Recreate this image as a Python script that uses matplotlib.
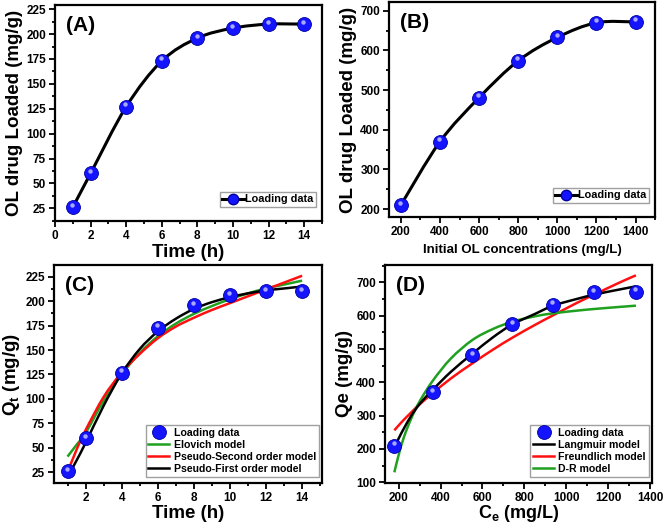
import matplotlib
matplotlib.use("Agg")
import matplotlib.pyplot as plt
import numpy as np
from matplotlib.path import Path
from matplotlib.patches import PathPatch
from matplotlib.ticker import MultipleLocator, AutoMinorLocator
from matplotlib.transforms import offset_copy

plt.rcParams['font.family'] = ['Liberation Sans', 'DejaVu Sans']
plt.rcParams['font.weight'] = 'bold'
plt.rcParams['mathtext.fontset'] = 'custom'
plt.rcParams['mathtext.rm'] = 'Liberation Sans:bold'
plt.rcParams['mathtext.bf'] = 'Liberation Sans:bold'

# (A) loading vs time
time_h = [1, 2, 4, 6, 8, 10, 12, 14]
loaded_t = [26, 60, 127, 173, 196, 206, 210, 210]

# (B) loading vs initial concentration
conc0 = [200, 400, 600, 800, 1000, 1200, 1400]
loaded_c = [210, 370, 481, 574, 633, 670, 672]

# (C) kinetic model curves
t_model = [1, 1.5, 2, 3, 4, 5, 6, 7, 8, 9, 10, 11, 12, 13, 14]
elovich = [41, 53, 65, 98, 125, 147, 164, 177, 187, 195, 202, 208, 213, 217, 221]
pso = [25, 48, 68, 102, 127, 146, 162, 174, 183, 191, 198, 205, 212, 219, 226]
pfo = [20, 37, 55, 93, 126, 151, 169, 182, 192, 199, 204, 208, 211, 213, 215]

# (D) isotherm
ce = [179, 363, 552, 743, 937, 1133, 1333]
qe = [210, 370, 481, 574, 633, 670, 672]
ce_model = [179, 200, 225, 260, 300, 363, 450, 552, 650, 743, 850, 937, 1050, 1133, 1250, 1333]
langmuir = [204, 232, 262, 300, 335, 378, 432, 486, 535, 574, 605, 630, 650, 663, 678, 688]
freundlich = [256, 271, 288, 310, 334, 368, 412, 457, 498, 534, 572, 601, 638, 663, 698, 721]
dr_model = [130, 183, 236, 292, 343, 405, 472, 527, 560, 582, 598, 607, 615, 620, 626, 630]

BLUE = '#1414ff'
GREEN = '#1fa01f'
RED = '#ff1010'


def smooth_path(x, y):
    # Catmull-Rom through the points, drawn as cubic Bezier segments
    x = np.asarray(x, float)
    y = np.asarray(y, float)
    pts = np.column_stack([x, y])
    verts = [pts[0]]
    codes = [Path.MOVETO]
    n = len(pts)
    for i in range(n - 1):
        p0 = pts[i - 1] if i > 0 else pts[i]
        p1 = pts[i]
        p2 = pts[i + 1]
        p3 = pts[i + 2] if i + 2 < n else pts[i + 1]
        c1 = p1 + (p2 - p0) / 6.0
        c2 = p2 - (p3 - p1) / 6.0
        verts += [c1, c2, p2]
        codes += [Path.CURVE4] * 3
    return Path(verts, codes)


def curve(ax, x, y, color, lw=1.8, z=3):
    ax.add_patch(PathPatch(smooth_path(x, y), fc='none', ec=color, lw=lw, zorder=z))
    return ax.plot([], [], '-', color=color, lw=lw)[0]


def spheres(ax, x, y, label=None, ms=10):
    h, = ax.plot(x, y, 'o', ms=ms, mfc=BLUE, mec='#0000a0', mew=0.6,
                 label=label, zorder=5)
    tr = offset_copy(ax.transData, fig=ax.figure, x=-0.5, y=1.8, units='points')
    ax.plot(x, y, 'o', ms=ms * 0.32, mfc='#e8e8ff', mec='none', alpha=0.7,
            transform=tr, zorder=6)
    return h


def style(ax):
    for s in ax.spines.values():
        s.set_linewidth(1.6)
    ax.tick_params(which='both', direction='out', width=1.3, labelsize=8.5,
                   top=False, right=False, pad=2.5)
    ax.tick_params(which='major', length=4)
    ax.tick_params(which='minor', length=2.5)
    ax.xaxis.set_minor_locator(AutoMinorLocator(2))
    ax.yaxis.set_minor_locator(AutoMinorLocator(2))
    for lab in ax.get_xticklabels() + ax.get_yticklabels():
        lab.set_fontweight('bold')


def data_legend(ax, handle):
    ax.legend([handle], ['Loading data'], loc='lower right', fontsize=7.8, frameon=True,
              fancybox=False, edgecolor='#888888', handlelength=2.0, handletextpad=0.1,
              borderpad=0.25, borderaxespad=0.3, bbox_to_anchor=(0.99, 0.05))


fig = plt.figure(figsize=(6.64, 5.23), dpi=100)
axA = fig.add_axes([0.0828, 0.577, 0.402, 0.413])
axB = fig.add_axes([0.586, 0.585, 0.4006, 0.411])
axC = fig.add_axes([0.0813, 0.0765, 0.4036, 0.4168])
axD = fig.add_axes([0.580, 0.0765, 0.402, 0.4168])

# ---- A ----
curve(axA, time_h, loaded_t, 'black', lw=2.2)
spheres(axA, time_h, loaded_t)
hA = axA.plot([], [], '-o', color='black', lw=2.2, ms=7.5, mfc=BLUE, mec='#0000a0')[0]
axA.set_xlim(0, 15)
axA.set_ylim(12, 229)
axA.xaxis.set_major_locator(MultipleLocator(2))
axA.yaxis.set_major_locator(MultipleLocator(25))
axA.set_xlabel('Time (h)', fontsize=13.5, fontweight='bold', labelpad=1)
axA.set_ylabel('OL drug Loaded (mg/g)', fontsize=13.5, fontweight='bold', labelpad=2)
axA.text(0.04, 0.95, '(A)', transform=axA.transAxes, fontsize=15, fontweight='bold', va='top')
data_legend(axA, hA)
style(axA)

# ---- B ----
curve(axB, conc0, loaded_c, 'black', lw=2.2)
spheres(axB, conc0, loaded_c)
hB = axB.plot([], [], '-o', color='black', lw=2.2, ms=7.5, mfc=BLUE, mec='#0000a0')[0]
axB.set_xlim(140, 1500)
axB.set_ylim(180, 722)
axB.xaxis.set_major_locator(MultipleLocator(200))
axB.yaxis.set_major_locator(MultipleLocator(100))
axB.set_xlabel('Initial OL concentrations (mg/L)', fontsize=9.5, fontweight='bold', labelpad=4)
axB.set_ylabel('OL drug Loaded (mg/g)', fontsize=13.5, fontweight='bold', labelpad=2)
axB.text(0.04, 0.95, '(B)', transform=axB.transAxes, fontsize=15, fontweight='bold', va='top')
data_legend(axB, hB)
style(axB)

# ---- C ----
hC0 = spheres(axC, time_h, loaded_t)
hC1 = curve(axC, t_model, elovich, GREEN)
hC2 = curve(axC, t_model, pso, RED)
hC3 = curve(axC, t_model, pfo, 'black', z=4)
axC.set_xlim(0.25, 15.1)
axC.set_ylim(14, 237)
axC.xaxis.set_major_locator(MultipleLocator(2))
axC.yaxis.set_major_locator(MultipleLocator(25))
axC.set_xlabel('Time (h)', fontsize=13.5, fontweight='bold', labelpad=1)
axC.set_ylabel(r'Q$_{\mathbf{t}}$ (mg/g)', fontsize=13.5, fontweight='bold', labelpad=2)
axC.text(0.04, 0.95, '(C)', transform=axC.transAxes, fontsize=15, fontweight='bold', va='top')
axC.legend([hC0, hC1, hC2, hC3],
           ['Loading data', 'Elovich model', 'Pseudo-Second order model', 'Pseudo-First order model'],
           loc='lower right', fontsize=7.6, frameon=True, fancybox=False, edgecolor='#888888',
           handlelength=2.0, handletextpad=0.4, borderpad=0.25, labelspacing=0.2,
           borderaxespad=0.2, bbox_to_anchor=(0.995, 0.02))
style(axC)

# ---- D ----
hD0 = spheres(axD, ce, qe)
hD1 = curve(axD, ce_model, langmuir, 'black', z=4)
hD2 = curve(axD, ce_model, freundlich, RED)
hD3 = curve(axD, ce_model, dr_model, GREEN)
axD.set_xlim(135, 1410)
axD.set_ylim(98, 752)
axD.xaxis.set_major_locator(MultipleLocator(200))
axD.yaxis.set_major_locator(MultipleLocator(100))
axD.set_xlabel(r'C$_{\mathbf{e}}$ (mg/L)', fontsize=13, fontweight='bold', labelpad=-1)
axD.set_ylabel('Qe (mg/g)', fontsize=13.5, fontweight='bold', labelpad=2)
axD.text(0.04, 0.95, '(D)', transform=axD.transAxes, fontsize=15, fontweight='bold', va='top')
axD.legend([hD0, hD1, hD2, hD3],
           ['Loading data', 'Langmuir model', 'Freundlich model', 'D-R model'],
           loc='lower right', fontsize=7.6, frameon=True, fancybox=False, edgecolor='#888888',
           handlelength=2.0, handletextpad=0.4, borderpad=0.25, labelspacing=0.2,
           borderaxespad=0.2, bbox_to_anchor=(0.995, 0.02))
style(axD)

fig.savefig('out.png', dpi=100)
